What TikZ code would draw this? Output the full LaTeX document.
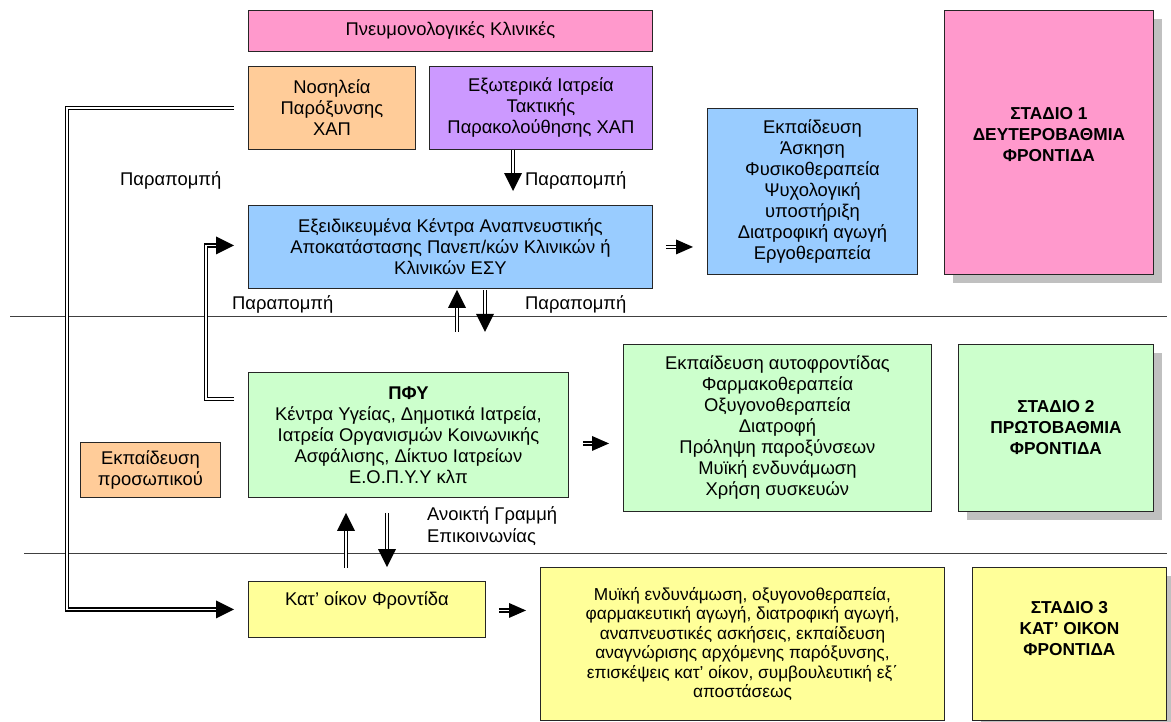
\documentclass[tikz,border=0pt]{standalone}
\usepackage{fontspec}
\setmainfont{Liberation Sans}
\usetikzlibrary{calc,decorations.markings,shadows}
\definecolor{cpink}{HTML}{FF99CC}
\definecolor{corange}{HTML}{FFCC99}
\definecolor{cpurple}{HTML}{CC99FF}
\definecolor{cblue}{HTML}{99CCFF}
\definecolor{cgreen}{HTML}{CCFFCC}
\definecolor{cyellow}{HTML}{FFFF99}
\definecolor{cshadow}{HTML}{C0C0C0}
\definecolor{cline}{HTML}{404040}
\begin{document}
\begin{tikzpicture}[x=1pt,y=-1pt,
  box/.style={draw=black!85, line width=0.9pt, inner sep=0pt, align=center,
    anchor=north west, font=\fontsize{18.4}{21}\selectfont},
  stagebox/.style={box, font=\fontsize{17.3}{21}\selectfont\bfseries,
    drop shadow={shadow xshift=9pt, shadow yshift=-9pt, opacity=1, fill=cshadow}},
  yellowtext/.style={box, font=\fontsize{17.3}{19.5}\selectfont},
  lbl/.style={inner sep=0pt, anchor=west, font=\fontsize{18.4}{21}\selectfont},
  sep/.style={draw=cline, line width=0.9pt},
  dblbase/.style={double=white, double distance=1.6pt, line width=1.4pt},
  dbl/.style={dblbase, shorten >=16pt,
    postaction={decorate, decoration={markings, mark=at position 1 with
      {\fill[black] (0pt,0pt) -- (-18pt,9pt) -- (-18pt,-9pt) -- cycle;}}}},
  dbls/.style={dblbase, shorten >=15pt,
    postaction={decorate, decoration={markings, mark=at position 1 with
      {\fill[black] (0pt,0pt) -- (-17pt,7.5pt) -- (-17pt,-7.5pt) -- cycle;}}}},
]
\useasboundingbox (0,0) rectangle (1171,721);
\clip (0,0) rectangle (1171,721);

% separator lines
\draw[sep] (10,316) -- (1167,316);
\draw[sep] (24,553) -- (1167,553);

% boxes
\node[box, fill=cpink, minimum width=404pt, minimum height=41pt] (pneu) at (248,10) {Πνευμονολογικές Κλινικές};
\node[box, fill=corange, minimum width=167pt, minimum height=83pt] (noso) at (248,66) {Νοσηλεία\\Παρόξυνσης\\ΧΑΠ};
\node[box, fill=cpurple, minimum width=223pt, minimum height=83pt] (exot) at (429,66) {Εξωτερικά Ιατρεία\\Τακτικής\\Παρακολούθησης ΧΑΠ};
\node[box, fill=cblue, minimum width=404pt, minimum height=83pt] (esk) at (248,205) {Εξειδικευμένα Κέντρα Αναπνευστικής\\Αποκατάστασης Πανεπ/κών Κλινικών ή\\Κλινικών ΕΣΥ};
\node[box, fill=cblue, minimum width=210pt, minimum height=166pt] (bluer) at (707,108) {Εκπαίδευση\\Άσκηση\\Φυσικοθεραπεία\\Ψυχολογική\\υποστήριξη\\Διατροφική αγωγή\\Εργοθεραπεία};
\node[stagebox, fill=cpink, minimum width=209pt, minimum height=264pt] (st1) at (944,10) {ΣΤΑΔΙΟ 1\\ΔΕΥΤΕΡΟΒΑΘΜΙΑ\\ΦΡΟΝΤΙΔΑ\\[-6pt]\mbox{}};

\node[box, fill=cgreen, minimum width=320pt, minimum height=125pt] (pfy) at (248,372) {\textbf{ΠΦΥ}\\Κέντρα Υγείας, Δημοτικά Ιατρεία,\\Ιατρεία Οργανισμών Κοινωνικής\\Ασφάλισης, Δίκτυο Ιατρείων\\Ε.Ο.Π.Υ.Υ κλπ};
\node[box, fill=cgreen, minimum width=308pt, minimum height=167pt] (greenr) at (623,344) {Εκπαίδευση αυτοφροντίδας\\Φαρμακοθεραπεία\\Οξυγονοθεραπεία\\Διατροφή\\Πρόληψη παροξύνσεων\\Μυϊκή ενδυνάμωση\\Χρήση συσκευών};
\node[stagebox, fill=cgreen, minimum width=195pt, minimum height=167pt] (st2) at (958,344) {ΣΤΑΔΙΟ 2\\ΠΡΩΤΟΒΑΘΜΙΑ\\ΦΡΟΝΤΙΔΑ};
\node[box, fill=corange, minimum width=140pt, minimum height=55pt] (ekpp) at (80,442) {Εκπαίδευση\\προσωπικού};

\node[box, fill=cyellow, minimum width=237pt, minimum height=56pt] (katoikon) at (248,581) {Κατ’ οίκον Φροντίδα\\\mbox{}};
\node[yellowtext, fill=cyellow, minimum width=404pt, minimum height=153pt] (yel) at (540,567) {Μυϊκή ενδυνάμωση, οξυγονοθεραπεία,\\φαρμακευτική αγωγή, διατροφική αγωγή,\\αναπνευστικές ασκήσεις, εκπαίδευση\\αναγνώρισης αρχόμενης παρόξυνσης,\\επισκέψεις κατ’ οίκον, συμβουλευτική εξ΄\\αποστάσεως};
\node[stagebox, fill=cyellow, minimum width=194pt, minimum height=153pt] (st3) at (972,567) {ΣΤΑΔΙΟ 3\\ΚΑΤ’ ΟΙΚΟΝ\\ΦΡΟΝΤΙΔΑ\\[10pt]\mbox{}};

% labels
\node[lbl] (l1) at (120,180) {Παραπομπή};
\node[lbl] (l2) at (525,180) {Παραπομπή};
\node[lbl] (l3) at (232,304) {Παραπομπή};
\node[lbl] (l4) at (525,304) {Παραπομπή};
\node[lbl, align=left, font=\fontsize{18.4}{22}\selectfont] (l5) at (427,526) {Ανοικτή Γραμμή\\Επικοινωνίας};

% bend points
\coordinate (busA) at (67,300);
\coordinate (busB) at (206,320);

% connectors
\draw[dbl] ($(noso.west)+(-14,0)$) -| (busA) |- ($(katoikon.west)+(-14,0)$);
\draw[dbl] ($(pfy.north west)+(-14,27)$) -| (busB) |- ($(esk.west)+(-14,-1.5)$);
\draw[dbl] ($(exot.south west)+(84,0)$) -- ($(esk.north west)+(265,-14)$);
\draw[dbls] ($(esk.east)+(13,0)$) -- ($(bluer.west |- esk.east)+(-14,0)$);
\draw[dbl] ($(esk.south west)+(209,43)$) -- ($(esk.south west)+(209,1)$);
\draw[dbl] ($(esk.south west)+(237,1)$) -- ($(esk.south west)+(237,43)$);
\draw[dbls] ($(pfy.east)+(14,8.5)$) -- ($(greenr.west)+(-14,15.5)$);
\draw[dbl] ($(pfy.south west)+(98,70)$) -- ($(pfy.south west)+(98,15)$);
\draw[dbl] ($(pfy.south west)+(139,15)$) -- ($(katoikon.north west)+(139,-14)$);
\draw[dbls] ($(katoikon.east)+(13,1)$) -- ($(yel.west |- katoikon.east)+(-14,1)$);
\end{tikzpicture}
\end{document}
